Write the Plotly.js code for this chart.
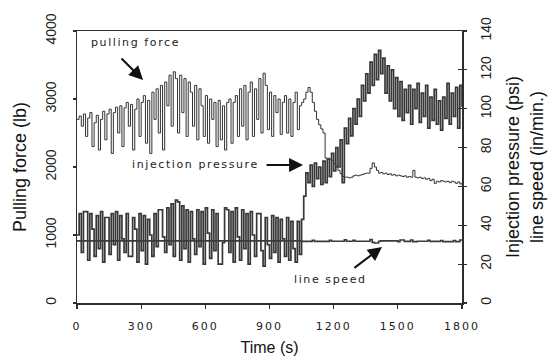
<!DOCTYPE html>
<html>
<head>
<meta charset="utf-8">
<script src="https://cdn.plot.ly/plotly-3.0.1.min.js"></script>
<style>
  html, body { margin: 0; padding: 0; background: #fff; }
  #chart { width: 559px; height: 356px; }
  .xtick text { letter-spacing: 2px; }
  .annotation-text { letter-spacing: 1.6px; }
</style>
</head>
<body>
<div id="chart"></div>
<script>
// time grid (s), 10 s sampling
const timeS = [
  0,10,20,30,40,50,60,70,80,90,100,110,120,130,140,150,160,170,180,190,
  200,210,220,230,240,250,260,270,280,290,300,310,320,330,340,350,360,370,380,390,
  400,410,420,430,440,450,460,470,480,490,500,510,520,530,540,550,560,570,580,590,
  600,610,620,630,640,650,660,670,680,690,700,710,720,730,740,750,760,770,780,790,
  800,810,820,830,840,850,860,870,880,890,900,910,920,930,940,950,960,970,980,990,
  1000,1010,1020,1030,1040,1050,1060,1070,1080,1090,1100,1110,1120,1130,1140,1150,1160,1170,1180,1190,
  1200,1210,1220,1230,1240,1250,1260,1270,1280,1290,1300,1310,1320,1330,1340,1350,1360,1370,1380,1390,
  1400,1410,1420,1430,1440,1450,1460,1470,1480,1490,1500,1510,1520,1530,1540,1550,1560,1570,1580,1590,
  1600,1610,1620,1630,1640,1650,1660,1670,1680,1690,1700,1710,1720,1730,1740,1750,1760,1770,1780,1790,
  1800
];

// pulling force (lb), left axis
const pullingForce = [
  2700,2750,2600,2780,2450,2720,2800,2300,2650,2760,2250,2700,2820,2400,2780,2850,2200,2800,2880,2500,
  2900,2300,2870,2950,2600,2920,2250,2850,3000,2450,2950,3050,2350,2980,2200,3100,2700,3150,2500,3200,
  2250,3250,2900,3350,2600,3400,3300,2500,3350,2800,3300,2450,3250,3100,2600,3200,2400,3150,2900,2450,
  3050,2350,3000,2700,2950,2300,2980,2400,2900,2250,2950,3000,2350,2950,3050,2450,3150,2600,3200,2400,
  3100,3250,2450,3150,2700,3300,2500,3380,3200,2550,3100,2450,3050,2800,3000,2480,2950,3050,2500,3000,
  2450,2950,3100,2550,2900,2950,3000,3100,3170,3100,2950,2820,2700,2620,2560,2500,2130,2130,2120,2100,
  2050,2000,1950,1900,1860,1850,1850,1840,1850,1870,1880,1870,1880,1890,1900,1910,1910,1980,2060,2000,
  1950,1910,1920,1900,1910,1890,1900,1880,1890,1870,1880,1870,1860,1870,1850,1860,1850,1950,1850,1840,
  1850,1830,1840,1820,1830,1800,1820,1760,1790,1780,1800,1790,1780,1790,1770,1790,1780,1760,1780,1750,
  1770
];

// injection pressure (psi), right axis
const injectionPressure = [
  35,46,26,47,47,22,46,38,24,45,28,47,21,44,44,25,46,30,47,22,
  45,33,26,46,24,24,44,38,21,46,27,45,20,43,35,24,46,29,48,48,
  34,26,49,30,51,24,53,52,22,50,28,48,21,47,33,25,48,29,47,20,
  49,36,23,48,27,46,20,20,31,49,48,26,47,21,49,34,22,48,28,46,
  20,47,35,24,46,46,27,19,44,30,23,45,26,44,21,43,33,24,44,22,
  42,28,21,42,25,43,55,67,62,71,60,72,64,70,61,73,62,74,65,77,
  68,80,70,84,62,90,82,95,86,100,92,105,96,112,104,118,108,124,112,128,
  115,130,118,126,108,122,104,120,100,116,96,114,94,110,98,112,92,110,100,113,
  93,108,96,112,90,106,94,110,92,104,89,106,95,113,92,108,96,111,90,112,
  101
];

// line speed (in/min), right axis
const lineSpeedTime = [0,1050,1100,1110,1180,1190,1250,1260,1290,1300,1370,1380,1390,1410,1420,1500,1510,1530,1560,1570,1590,1640,1650,1700,1710,1760,1770,1790,1800];
const lineSpeed     = [32,31.7,32.3,31.7,32.3,31.8,32.5,31.8,32.3,31.8,32.7,31.2,30.9,31.8,32.0,31.6,32.4,31.7,32.4,31.6,31.8,32.3,31.7,32.2,31.6,32.2,31.6,32.4,32.4];

const xTicks = [0,300,600,900,1200,1500,1800];
const leftTicks = [0,1000,2000,3000,4000];
const rightTicks = [0,20,40,60,80,100,120,140];

const dark = '#2e2e2e';

const traces = [
  { x: timeS, y: pullingForce, type: 'scatter', mode: 'lines', yaxis: 'y',
    line: { color: '#333', width: 1, shape: 'hv' }, hoverinfo: 'skip' },
  { x: timeS, y: injectionPressure, type: 'scatter', mode: 'lines', yaxis: 'y2',
    line: { color: '#383838', width: 1.7, shape: 'hv' }, hoverinfo: 'skip' },
  { x: lineSpeedTime, y: lineSpeed, type: 'scatter', mode: 'lines', yaxis: 'y2',
    line: { color: '#3a3a3a', width: 1.6, shape: 'hv' }, hoverinfo: 'skip' }
];

const tickFont = { family: 'DejaVu Sans', size: 11, color: '#222' };
const yTickFont = { family: 'Liberation Sans', size: 14, color: '#222' };
const titleFont = { family: 'Liberation Sans', size: 18, color: '#111' };

const annFont = { family: 'DejaVu Sans', size: 11, color: '#222' };
const arrowStyle = { showarrow: true, arrowhead: 2, arrowsize: 1.4, arrowwidth: 2, arrowcolor: '#111',
  xref: 'x', yref: 'y', axref: 'x', ayref: 'y', text: '', standoff: 0 };

const layout = {
  width: 559, height: 356,
  margin: { l: 77, r: 97, t: 31, b: 53, pad: 0 },
  paper_bgcolor: '#fff', plot_bgcolor: '#fff',
  showlegend: false,
  xaxis: {
    range: [0, 1800], tickvals: xTicks, ticktext: xTicks.map(String),
    showgrid: false, zeroline: false,
    showline: true, linecolor: dark, linewidth: 1.5, mirror: true,
    ticks: 'outside', ticklen: 4, tickwidth: 1.2, tickcolor: dark,
    tickfont: tickFont, ticklabelstandoff: 8,
    title: { text: 'Time (s)', font: { family: 'Liberation Sans', size: 16, color: '#111' }, standoff: 11 }
  },
  yaxis: {
    range: [0, 4000], tickvals: leftTicks, ticktext: leftTicks.map(String),
    showgrid: false, zeroline: false,
    showline: true, linecolor: dark, linewidth: 1.5,
    ticks: 'outside', ticklen: 3, tickwidth: 1.2, tickcolor: dark,
    tickangle: -90, tickfont: yTickFont, ticklabelstandoff: 11,
    title: { text: 'Pulling force (lb)', font: titleFont, standoff: 11 }
  },
  yaxis2: {
    range: [0, 140], tickvals: rightTicks, ticktext: rightTicks.map(String),
    overlaying: 'y', side: 'right', anchor: 'x',
    showgrid: false, zeroline: false,
    showline: true, linecolor: dark, linewidth: 1.5,
    ticks: 'outside', ticklen: 3, tickwidth: 1.2, tickcolor: dark,
    tickangle: -90, tickfont: yTickFont, ticklabelstandoff: 8,
    title: { text: 'Injection pressure (psi)<br>line speed (in/min.)', font: titleFont, standoff: 13 }
  },
  yaxis3: {
    range: [0, 140], tickvals: rightTicks, overlaying: 'y', side: 'right', anchor: 'x',
    showgrid: false, zeroline: false, showline: false, showticklabels: false,
    ticks: 'inside', ticklen: 4, tickwidth: 1.2, tickcolor: dark
  },
  annotations: [
    { text: 'pulling force', x: 56, y: 3824, xref: 'x', yref: 'y', xanchor: 'left', yanchor: 'middle',
      showarrow: false, font: annFont },
    Object.assign({}, arrowStyle, { x: 309, y: 3279, ax: 201, ay: 3618 }),
    { text: 'injection pressure', x: 248, y: 2044, xref: 'x', yref: 'y', xanchor: 'left', yanchor: 'middle',
      showarrow: false, font: annFont },
    Object.assign({}, arrowStyle, { x: 1057, y: 2029, ax: 879, ay: 2029 }),
    { text: 'line speed', x: 1005, y: 353, xref: 'x', yref: 'y', xanchor: 'left', yanchor: 'middle',
      showarrow: false, font: annFont },
    Object.assign({}, arrowStyle, { x: 1426, y: 824, ax: 1290, ay: 500 })
  ]
};

// invisible trace to activate yaxis3 (tick marks only)
traces.push({ x: [0], y: [0], yaxis: 'y3', type: 'scatter', mode: 'markers',
  marker: { opacity: 0 }, hoverinfo: 'skip' });

Plotly.newPlot('chart', traces, layout, { staticPlot: true, displayModeBar: false });
</script>
</body>
</html>
